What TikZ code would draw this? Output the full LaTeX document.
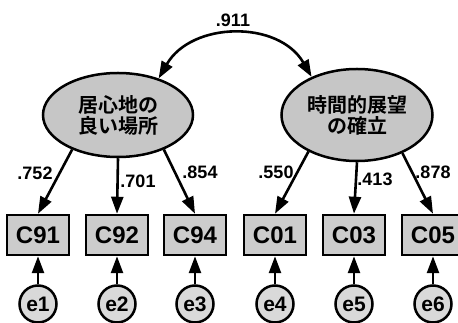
\documentclass[tikz,border=0pt]{standalone}
\usepackage{fontspec}
\setmainfont{Liberation Sans}
\newfontfamily\jp{Noto Sans CJK JP}[BoldFont={Noto Sans CJK JP Bold}]
\usetikzlibrary{arrows.meta,shapes.geometric}
\tikzset{
  x=1pt,y=1pt,
  lat/.style={ellipse,draw,line width=2.5pt,fill=gray!45,inner sep=0pt,align=center,font=\jp\bfseries\fontsize{20}{21}\selectfont},
  obs/.style={rectangle,draw,line width=2.5pt,fill=gray!40,minimum width=62pt,minimum height=40pt,inner sep=0pt,font=\bfseries\fontsize{24}{25}\selectfont},
  err/.style={circle,draw,line width=2.5pt,fill=gray!30,minimum size=37pt,inner sep=0pt,font=\bfseries\fontsize{21}{22}\selectfont},
  path/.style={line width=2.6pt,-{Triangle[length=17pt,width=12pt]}},
  lbl/.style={font=\bfseries\fontsize{18}{19}\selectfont,inner sep=0pt},
}
\begin{document}
\begin{tikzpicture}
\useasboundingbox (0,0) rectangle (458,323);
\node[lat,minimum width=150pt,minimum height=84pt] (L) at (118,208) {居心地の\\良い場所};
\node[lat,minimum width=151pt,minimum height=92pt] (R) at (357,208) {時間的展望\\の確立};
\node[obs] (c91) at (38,88) {C91};
\node[obs] (c92) at (117,88) {C92};
\node[obs] (c94) at (195,88) {C94};
\node[obs] (c01) at (275,88) {C01};
\node[obs] (c03) at (354,88) {C03};
\node[obs] (c05) at (433,88) {C05};
\node[err] (e1) at (38,19) {e1};
\node[err] (e2) at (117,19) {e2};
\node[err] (e3) at (195,19) {e3};
\node[err] (e4) at (275,19) {e4};
\node[err] (e5) at (354,19) {e5};
\node[err] (e6) at (433,19) {e6};
\draw[path] (L.217) -- (c91.north);
\draw[path] (L.south) -- (c92.north);
\draw[path] (L.-37) -- (c94.north);
\draw[path] (R.217) -- (c01.north);
\draw[path] (R.south) -- (c03.north);
\draw[path] (R.-40) -- (c05.north);
\foreach \i/\c in {1/c91,2/c92,3/c94,4/c01,5/c03,6/c05}
  \draw[path] (e\i) -- (\c.south);
\draw[line width=2.6pt,{Triangle[length=17pt,width=12pt]}-{Triangle[length=17pt,width=12pt]}]
  (L.42) to[out=60,in=120,looseness=1.1] (R.140);
\node[lbl] (k0) at (233,303) {.911};
\node[lbl] (k1) at (35,150) {.752};
\node[lbl] (k2) at (138,142) {.701};
\node[lbl] (k3) at (200,151) {.854};
\node[lbl] (k4) at (276,151) {.550};
\node[lbl] (k5) at (375,144) {.413};
\node[lbl] (k6) at (433,151) {.878};
\end{tikzpicture}
\end{document}
